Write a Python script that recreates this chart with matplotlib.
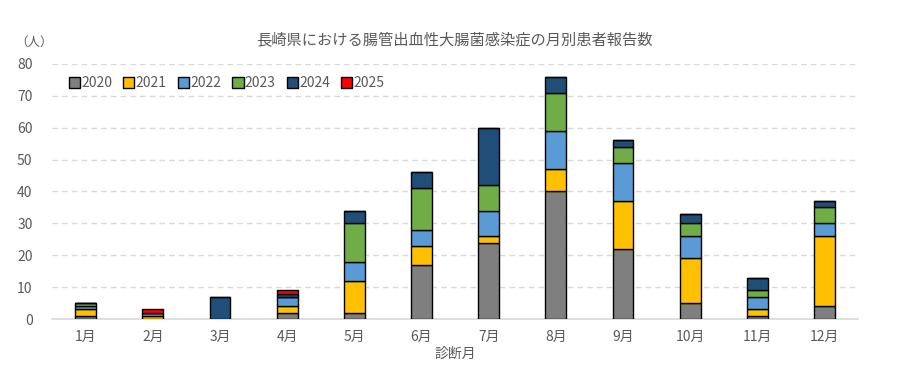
"""
長崎県 腸管出血性大腸菌感染症 月別患者報告数
"""
import matplotlib.pyplot as plt
import numpy as np

plt.rcParams["font.family"] = ["Noto Sans CJK JP", "DejaVu Sans"]

# データ
months = ["1月", "2月", "3月", "4月", "5月", "6月", "7月", "8月", "9月", "10月", "11月", "12月"]
years = ["2020", "2021", "2022", "2023", "2024", "2025"]
y2020 = [1, 0, 0, 2, 2, 17, 24, 40, 22, 5, 1, 4]
y2021 = [2, 1, 0, 2, 10, 6, 2, 7, 15, 14, 2, 22]
y2022 = [1, 1, 0, 3, 6, 5, 8, 12, 12, 7, 4, 4]
y2023 = [1, 0, 0, 0, 12, 13, 8, 12, 5, 4, 2, 5]
y2024 = [0, 0, 7, 1, 4, 5, 18, 5, 2, 3, 4, 2]
y2025 = [0, 1, 0, 1, 0, 0, 0, 0, 0, 0, 0, 0]
colors = ["#7f7f7f", "#ffc000", "#5b9bd5", "#70ad47", "#1f4e79", "#ff0000"]

fig = plt.figure(figsize=(9.08, 3.83), dpi=100)
ax = fig.add_axes([0.0573, 0.167, 0.8877, 0.666])

x = np.arange(len(months))
bottom = np.zeros(len(months))
for year, vals, col in zip(years, [y2020, y2021, y2022, y2023, y2024, y2025], colors):
    vals = np.array(vals)
    ax.bar(x, vals, 0.31, bottom=bottom, color=col, edgecolor="black",
           linewidth=1, label=year, zorder=3)
    bottom += vals

ax.set_xlim(-0.5, 11.5)
ax.set_ylim(0, 80)
ax.set_yticks(range(0, 81, 10))
ax.set_xticks(x)
ax.set_xticklabels(months)
ax.tick_params(length=0, labelsize=10, colors="#595959", pad=8)
ax.tick_params(axis="y", pad=14)

ax.grid(axis="y", color="#d9d9d9", linestyle=(0, (4, 3)), linewidth=1, zorder=0)
for s in ["top", "right", "left"]:
    ax.spines[s].set_visible(False)
ax.spines["bottom"].set_color("#d9d9d9")
ax.spines["bottom"].set_linewidth(1.2)

ax.set_xlabel("診断月", fontsize=10, color="#595959", labelpad=2)
fig.text(0.5, 0.895, "長崎県における腸管出血性大腸菌感染症の月別患者報告数",
         ha="center", va="center", fontsize=11, color="#595959")
fig.text(0.038, 0.89, "（人）", ha="center", va="center", fontsize=9, color="#595959")

ax.legend(loc="upper left", bbox_to_anchor=(0.005, 1.0), ncol=6, frameon=False,
          fontsize=10, handlelength=0.8, handleheight=0.8, handletextpad=0.1,
          columnspacing=0.8, labelcolor="#595959")

plt.savefig("out.png", dpi=100)
